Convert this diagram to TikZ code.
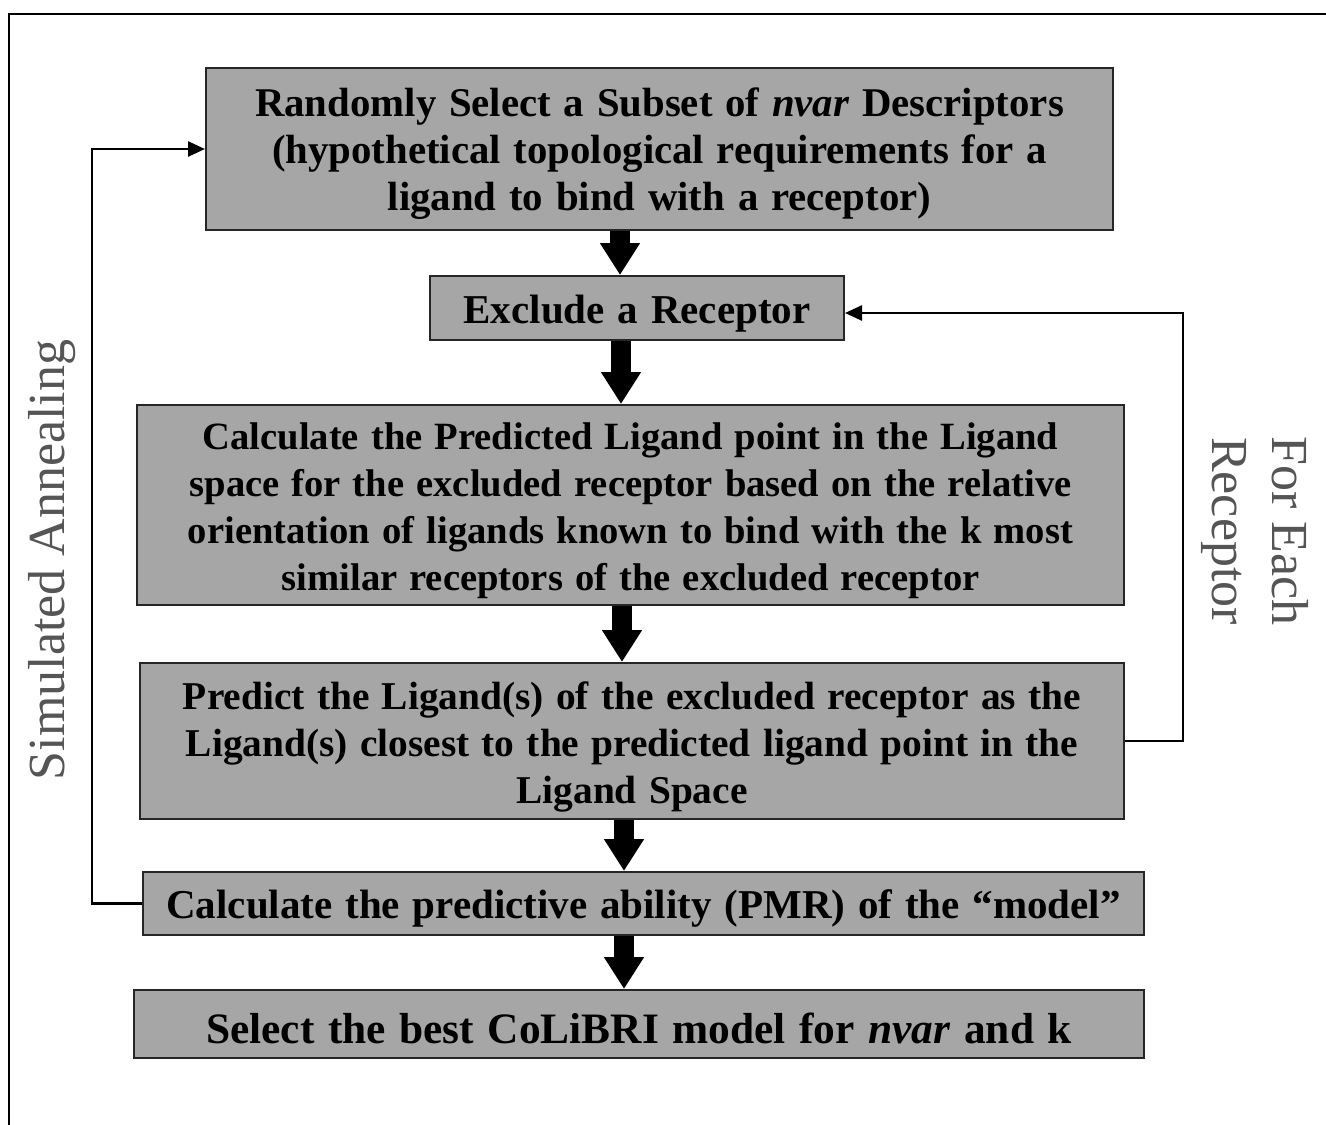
\documentclass[tikz,border=0pt]{standalone}
\usepackage{fontspec}
\setmainfont{Liberation Serif}[WordSpace=1.25]
\newfontfamily\plainserif{Liberation Serif}
\usetikzlibrary{arrows.meta}
\definecolor{boxgray}{HTML}{A6A6A6}
\definecolor{labelgray}{HTML}{555555}
\tikzset{
  stepbox/.style={draw=black!85, line width=2pt, fill=boxgray, inner sep=0pt},
  boxtext/.style={align=center, inner sep=0pt, font=\fontsize{#1}{47}\selectfont\bfseries},
  boxtext/.default=41,
  bigarrow/.style={line width=20pt, -{Triangle[width=38pt,length=32pt]}},
  looparrow/.style={line width=2.5pt, -{Triangle[width=15pt,length=17pt]}},
  sidelabel/.style={text=labelgray, align=center, inner sep=0pt, font=\plainserif\fontsize{52}{60}\selectfont}
}
\begin{document}
\begin{tikzpicture}[x=1pt,y=-1pt]
\useasboundingbox (0,0) rectangle (1326,1125);
\fill[white] (0,0) rectangle (1326,1125);
% outer frame
\draw[line width=2.5pt] (1326,14) -- (9,14) -- (9,1125);

% boxes
\node[stepbox, minimum width=907pt, minimum height=162pt] (b1) at (659.5,149) {};
\node[stepbox, minimum width=414pt, minimum height=64pt] (b2) at (637,308) {};
\node[stepbox, minimum width=987pt, minimum height=200pt] (b3) at (630.5,505) {};
\node[stepbox, minimum width=984pt, minimum height=156pt] (b4) at (632,741) {};
\node[stepbox, minimum width=1001pt, minimum height=63pt] (b5) at (643.5,903.5) {};
\node[stepbox, minimum width=1010pt, minimum height=68pt] (b6) at (639,1024) {};

% box texts
\node[boxtext=40.8] (t1) at ([yshift=-5pt]b1.center)
  {Randomly Select a Subset of \textit{nvar} Descriptors\\
   (hypothetical topological requirements for a\\
   ligand to bind with a receptor)};
\node[boxtext=41] (t2) at ([yshift=-6pt]b2.center) {Exclude a Receptor};
\node[boxtext=38.6] (t3) at ([yshift=-6pt]b3.center)
  {Calculate the Predicted Ligand point in the Ligand\\
   space for the excluded receptor based on the relative\\
   orientation of ligands known to bind with the k most\\
   similar receptors of the excluded receptor};
\node[boxtext=39.4] (t4) at ([yshift=-6pt]b4.center)
  {Predict the Ligand(s) of the excluded receptor as the\\
   Ligand(s) closest to the predicted ligand point in the\\
   Ligand Space};
\node[boxtext=41] (t5) at ([yshift=-5pt]b5.center)
  {Calculate the predictive ability (PMR) of the “model”};
\node[boxtext=43.4] (t6) at ([yshift=-4pt]b6.center)
  {Select the best CoLiBRI model for \textit{nvar} and k};

% thick arrows
\coordinate (a1) at (620,0);
\coordinate (a2) at (621,0);
\coordinate (a3) at (622,0);
\coordinate (a4) at (624,0);
\coordinate (a5) at (624,0);
\draw[bigarrow] (b1.south -| a1) -- (b2.north -| a1);
\draw[bigarrow] (b2.south -| a2) -- (b3.north -| a2);
\draw[bigarrow] (b3.south -| a3) -- (b4.north -| a3);
\draw[bigarrow] (b4.south -| a4) -- (b5.north -| a4);
\draw[bigarrow] (b5.south -| a5) -- (b6.north -| a5);

% loops
\coordinate (L) at (92,0);
\coordinate (R) at (1183,0);
\draw[looparrow] (b5.west) -- (b5.west -| L) |- (b1.west);
\draw[looparrow] (b4.east) -- (b4.east -| R) |- ([yshift=-5pt]b2.east);

% side labels
\node[sidelabel, rotate=90] (sa) at (52,560) {Simulated Annealing};
\node[sidelabel, rotate=-90] (fe) at (1255,531) {For Each\\Receptor};
\end{tikzpicture}
\end{document}
